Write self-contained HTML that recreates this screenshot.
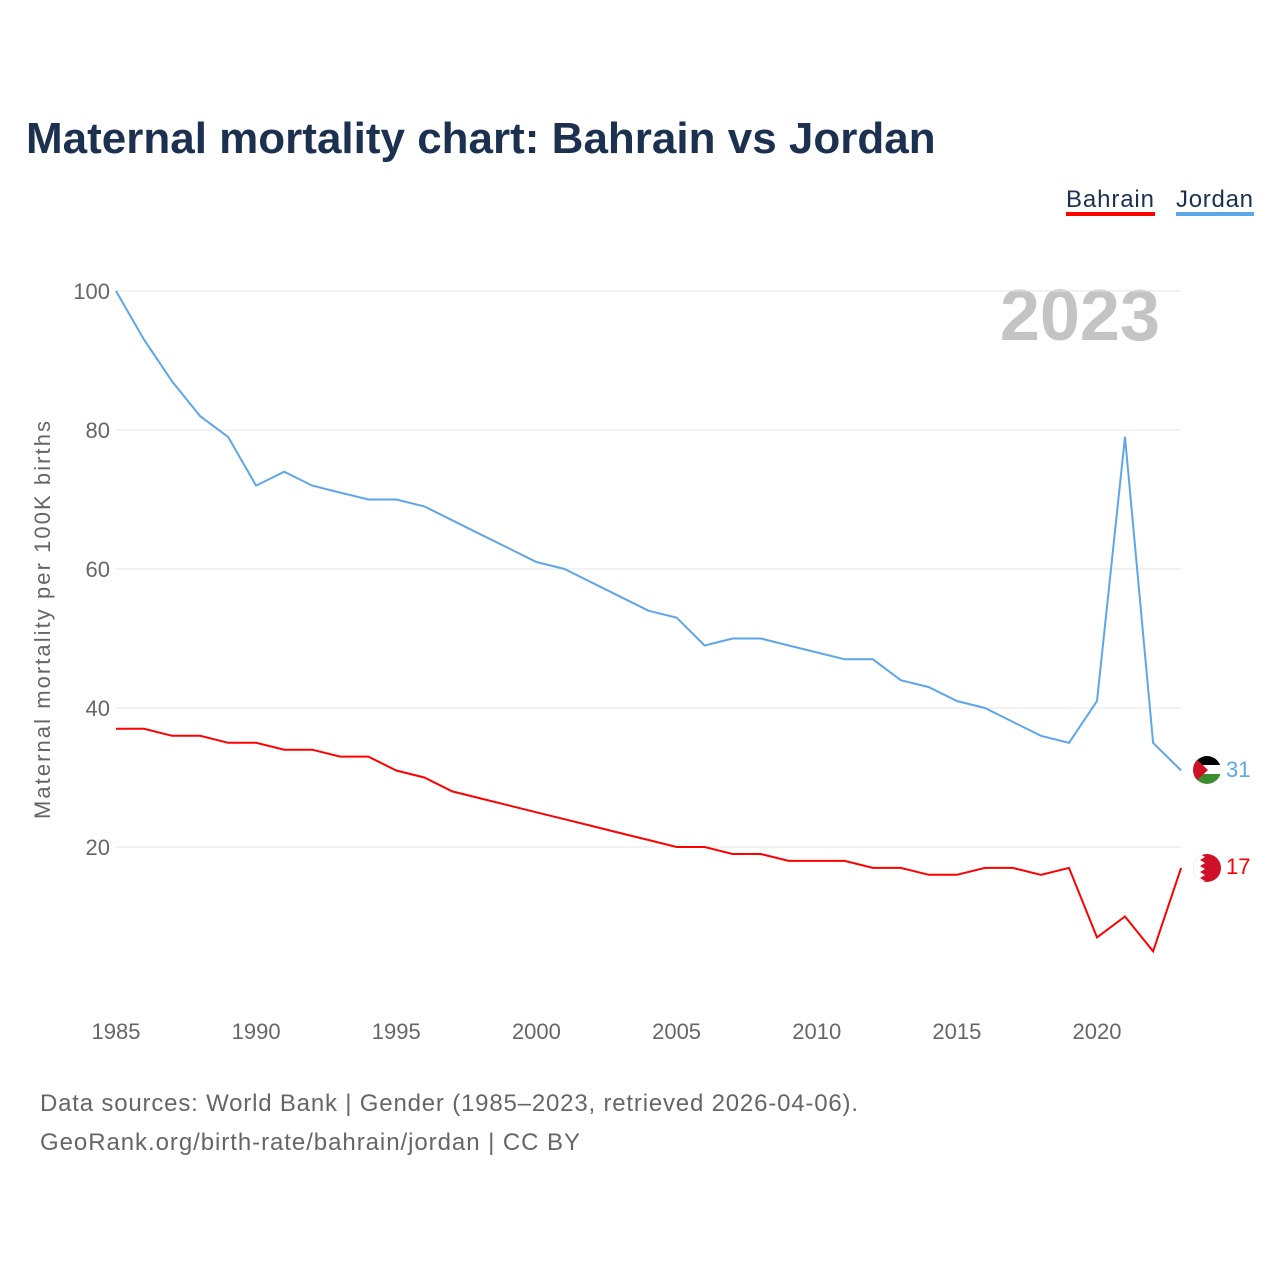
<!DOCTYPE html>
<html><head><meta charset="utf-8"><style>
body{margin:0;background:#fff;font-family:"Liberation Sans",sans-serif}
</style></head><body>
<svg width="1280" height="1280" xmlns="http://www.w3.org/2000/svg" id="chart">
<text x="26" y="153" font-size="44" font-weight="bold" fill="#1c3150">Maternal mortality chart: Bahrain vs Jordan</text>
<g><text x="1066" y="207" font-size="24" fill="#1c3150" textLength="88">Bahrain</text><rect x="1066" y="212" width="89" height="4" fill="#f00"/></g>
<g><text x="1176" y="207" font-size="24" fill="#1c3150" textLength="77">Jordan</text><rect x="1176" y="212" width="78" height="4" fill="#5ea6ea"/></g>
<text x="1160" y="340" font-size="72" font-weight="bold" fill="#c4c4c4" text-anchor="end">2023</text>
<text transform="translate(50,620) rotate(-90)" font-size="22" fill="#666" text-anchor="middle" textLength="398">Maternal mortality per 100K births</text>
<g id="grid"></g><g id="xt"></g><g id="lines"></g>
<g>
<clipPath id="cj"><circle cx="1207" cy="770" r="14"/></clipPath>
<g clip-path="url(#cj)"><rect x="1193" y="756" width="28" height="10" fill="#000"/><rect x="1193" y="765" width="28" height="10" fill="#fff"/><rect x="1193" y="774" width="28" height="10" fill="#3d8c2f"/><polygon points="1193,756 1208,770 1193,784" fill="#ce1126"/></g></g>
<g>
<clipPath id="cb"><circle cx="1207" cy="868" r="14"/></clipPath>
<g clip-path="url(#cb)"><rect x="1193" y="854" width="28" height="28" fill="#ce1126"/><polygon points="1193,854 1200,854 1205,857 1200,860 1205,863 1200,866 1205,869 1200,872 1205,875 1200,878 1205,881 1200,882 1193,882" fill="#fff"/></g></g>
<text x="1226" y="777" font-size="22" fill="#5ea6ea">31</text>
<text x="1226" y="874" font-size="22" fill="#f00">17</text>
<text x="40" y="1111" font-size="24" fill="#666" textLength="818">Data sources: World Bank | Gender (1985–2023, retrieved 2026-04-06).</text>
<text x="40" y="1150" font-size="24" fill="#666" textLength="540">GeoRank.org/birth-rate/bahrain/jordan | CC BY</text>
</svg>
<script>
const years=[1985,1986,1987,1988,1989,1990,1991,1992,1993,1994,1995,1996,1997,1998,1999,2000,2001,2002,2003,2004,2005,2006,2007,2008,2009,2010,2011,2012,2013,2014,2015,2016,2017,2018,2019,2020,2021,2022,2023];
const jordan=[100,93,87,82,79,72,74,72,71,70,70,69,67,65,63,61,60,58,56,54,53,49,50,50,49,48,47,47,44,43,41,40,38,36,35,41,79,35,31];
const bahrain=[37,37,36,36,35,35,34,34,33,33,31,30,28,27,26,25,24,23,22,21,20,20,19,19,18,18,18,17,17,16,16,17,17,16,17,7,10,5,17];
const yTicks=[20,40,60,80,100];
const xTicks=[1985,1990,1995,2000,2005,2010,2015,2020];
const NS="http://www.w3.org/2000/svg";
const xs=y=>116+(y-1985)*(981/35);
const ys=v=>986-v*6.95;
function mk(t,a,p){const e=document.createElementNS(NS,t);for(const k in a)e.setAttribute(k,a[k]);p.appendChild(e);return e;}
const g=document.getElementById('grid');
yTicks.forEach(v=>{
 const l=mk('line',{x1:116,x2:1181,y1:ys(v),y2:ys(v),stroke:'#e6e6e6','stroke-width':1},g);
 
 
 const t=mk('text',{x:110,y:ys(v)+8,'font-size':22,fill:'#666','text-anchor':'end'},g);
 t.textContent=v;
 
 
});
const xt=document.getElementById('xt');
xTicks.forEach(v=>{
 const t=mk('text',{x:xs(v),y:1039,'font-size':22,fill:'#666','text-anchor':'middle'},xt);
 t.textContent=v;
 
 
});
const L=document.getElementById('lines');
function line(d,c,n){
 const p=mk('path',{d:d.map((v,i)=>(i?'L':'M')+xs(years[i]).toFixed(1)+','+ys(v).toFixed(1)).join(''),fill:'none',stroke:c,'stroke-width':2},L);
 
 
}
line(jordan,'#5ea6ea','jordan-line');
line(bahrain,'#f00','bahrain-line');
</script>
</body></html>
